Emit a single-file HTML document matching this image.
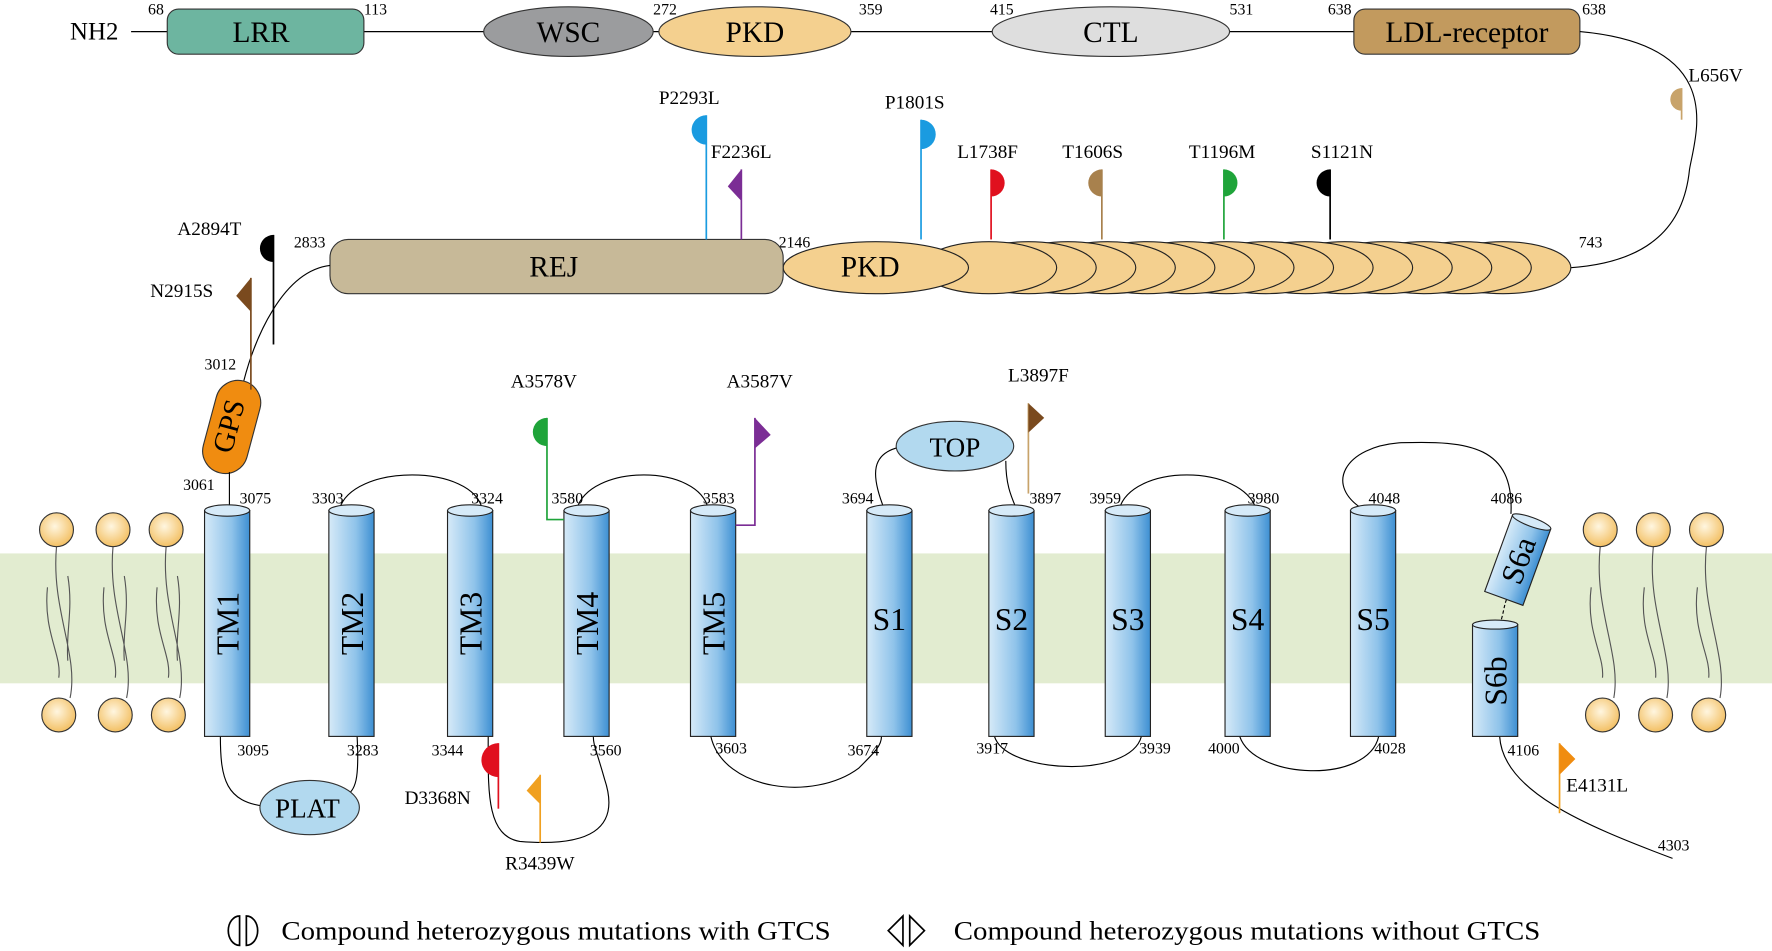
<!DOCTYPE html>
<html><head><meta charset="utf-8"><style>html,body{margin:0;padding:0;background:#fff}svg{display:block}</style></head>
<body>
<svg width="1772" height="951" viewBox="0 0 1568 842" preserveAspectRatio="none" xmlns="http://www.w3.org/2000/svg" font-family="Liberation Serif, serif">
<defs>
<linearGradient id="cyl" x1="0" x2="1" y1="0" y2="0"><stop offset="0" stop-color="#d6eaf8"/><stop offset="0.6" stop-color="#8fc3ea"/><stop offset="1" stop-color="#3d8fd2"/></linearGradient>
<radialGradient id="ball" cx="0.45" cy="0.4" r="0.6"><stop offset="0" stop-color="#fff6e0"/><stop offset="1" stop-color="#f3c064"/></radialGradient>
</defs>
<rect x="0" y="490" width="1568" height="115" fill="#e2ecd0"/>

<text x="62" y="35" font-size="22">NH2</text>
<line x1="116" y1="28" x2="1200" y2="28" stroke="#000"/>
<rect x="148" y="8" width="174" height="40" rx="10" fill="#6db5a0" stroke="#333"/>
<text x="231" y="37" font-size="26" text-anchor="middle">LRR</text>
<ellipse cx="503" cy="28" rx="75" ry="22" fill="#9b9c9e" stroke="#333"/>
<text x="503" y="37" font-size="26" text-anchor="middle">WSC</text>
<ellipse cx="668" cy="28" rx="85" ry="22" fill="#f4d08f" stroke="#333"/>
<text x="668" y="37" font-size="26" text-anchor="middle">PKD</text>
<ellipse cx="983" cy="28" rx="105" ry="22" fill="#dedede" stroke="#333"/>
<text x="983" y="37" font-size="26" text-anchor="middle">CTL</text>
<rect x="1198" y="8" width="200" height="40" rx="10" fill="#c29a5e" stroke="#333"/>
<text x="1298" y="37" font-size="26" text-anchor="middle">LDL-receptor</text>
<g font-size="14"><text x="131" y="13">68</text><text x="322" y="13">113</text><text x="578" y="13">272</text><text x="760" y="13">359</text><text x="876" y="13">415</text><text x="1088" y="13">531</text><text x="1175" y="13">638</text><text x="1400" y="13">638</text><text x="1397" y="219">743</text><text x="689" y="219">2146</text><text x="260" y="219">2833</text><text x="181" y="327">3012</text><text x="162" y="434">3061</text><text x="212" y="446">3075</text><text x="276" y="446">3303</text><text x="417" y="446">3324</text><text x="488" y="446">3580</text><text x="622" y="446">3583</text><text x="745" y="446">3694</text><text x="911" y="446">3897</text><text x="964" y="446">3959</text><text x="1104" y="446">3980</text><text x="1211" y="446">4048</text><text x="1319" y="446">4086</text>
<text x="210" y="669">3095</text><text x="307" y="669">3283</text><text x="382" y="669">3344</text><text x="522" y="669">3560</text><text x="633" y="667">3603</text><text x="750" y="669">3674</text><text x="864" y="667">3917</text><text x="1008" y="667">3939</text><text x="1069" y="667">4000</text><text x="1216" y="667">4028</text><text x="1334" y="669">4106</text><text x="1467" y="753">4303</text></g>
<path d="M1398 28 C1530 40 1500 120 1495 150 C1490 200 1460 232 1390 237" fill="none" stroke="#000"/>

<g fill="#f4d08f" stroke="#222">
<ellipse cx="1330" cy="237" rx="60" ry="23"/><ellipse cx="1295" cy="237" rx="60" ry="23"/><ellipse cx="1260" cy="237" rx="60" ry="23"/><ellipse cx="1225" cy="237" rx="60" ry="23"/><ellipse cx="1190" cy="237" rx="60" ry="23"/><ellipse cx="1155" cy="237" rx="60" ry="23"/><ellipse cx="1120" cy="237" rx="60" ry="23"/><ellipse cx="1085" cy="237" rx="60" ry="23"/><ellipse cx="1050" cy="237" rx="60" ry="23"/><ellipse cx="1015" cy="237" rx="60" ry="23"/><ellipse cx="980" cy="237" rx="60" ry="23"/><ellipse cx="945" cy="237" rx="60" ry="23"/><ellipse cx="910" cy="237" rx="60" ry="23"/><ellipse cx="875" cy="237" rx="60" ry="23"/>
<ellipse cx="775" cy="237" rx="82" ry="23"/></g>
<text x="770" y="245" font-size="26" text-anchor="middle">PKD</text>
<rect x="292" y="212" width="401" height="48" rx="16" fill="#c7b998" stroke="#333"/>
<text x="490" y="245" font-size="26" text-anchor="middle">REJ</text>
<path d="M292 235 C250 240 225 300 215 340" fill="none" stroke="#000"/>

<g transform="translate(205,378) rotate(15)"><rect x="-20" y="-42" width="40" height="84" rx="20" fill="#f08c10" stroke="#333"/><text x="0" y="0" font-size="26" text-anchor="middle" dominant-baseline="middle" transform="rotate(-90)">GPS</text></g>
<line x1="203" y1="418" x2="203" y2="452" stroke="#000"/>

<g fill="none" stroke="#000">
<path d="M195 652 C195 690 200 710 235 714"/><path d="M316 652 C318 690 315 700 305 705"/>
<path d="M432 652 C432 700 430 740 460 745 C520 750 550 735 535 690 C528 665 525 660 525 652"/>
<path d="M629 652 C640 700 720 710 760 680 C775 665 780 660 780 652"/>
<path d="M880 652 C890 685 1000 690 1010 652"/>
<path d="M1097 652 C1110 690 1210 695 1220 652"/>
<path d="M300 452 C310 410 420 410 427 452"/>
<path d="M510 452 C520 410 620 410 627 452"/>
<path d="M990 452 C1000 410 1100 410 1112 452"/>
<path d="M783 452 C770 420 770 400 800 395"/>
<path d="M890 408 C890 430 895 440 900 452"/>
<path d="M1208 452 C1170 430 1190 395 1240 392 C1300 390 1340 395 1337 455"/>
<path d="M1327 652 C1330 700 1400 730 1480 760"/>
<path d="M1327 553 C1332 540 1330 530 1340 520" stroke-dasharray="3,2"/>
</g>
<ellipse cx="274" cy="715" rx="44" ry="24" fill="#b2d9ef" stroke="#333"/><text x="272" y="724" font-size="24" text-anchor="middle">PLAT</text>
<ellipse cx="845" cy="395" rx="52" ry="22" fill="#b2d9ef" stroke="#333"/><text x="845" y="404" font-size="24" text-anchor="middle">TOP</text>

<g stroke="#222">
<g><rect x="181" y="452" width="40" height="200" fill="url(#cyl)"/><ellipse cx="201" cy="452" rx="20" ry="5" fill="#d6eaf8"/></g>
<g><rect x="291" y="452" width="40" height="200" fill="url(#cyl)"/><ellipse cx="311" cy="452" rx="20" ry="5" fill="#d6eaf8"/></g>
<g><rect x="396" y="452" width="40" height="200" fill="url(#cyl)"/><ellipse cx="416" cy="452" rx="20" ry="5" fill="#d6eaf8"/></g>
<g><rect x="499" y="452" width="40" height="200" fill="url(#cyl)"/><ellipse cx="519" cy="452" rx="20" ry="5" fill="#d6eaf8"/></g>
<g><rect x="611" y="452" width="40" height="200" fill="url(#cyl)"/><ellipse cx="631" cy="452" rx="20" ry="5" fill="#d6eaf8"/></g>
<g><rect x="767" y="452" width="40" height="200" fill="url(#cyl)"/><ellipse cx="787" cy="452" rx="20" ry="5" fill="#d6eaf8"/></g>
<g><rect x="875" y="452" width="40" height="200" fill="url(#cyl)"/><ellipse cx="895" cy="452" rx="20" ry="5" fill="#d6eaf8"/></g>
<g><rect x="978" y="452" width="40" height="200" fill="url(#cyl)"/><ellipse cx="998" cy="452" rx="20" ry="5" fill="#d6eaf8"/></g>
<g><rect x="1084" y="452" width="40" height="200" fill="url(#cyl)"/><ellipse cx="1104" cy="452" rx="20" ry="5" fill="#d6eaf8"/></g>
<g><rect x="1195" y="452" width="40" height="200" fill="url(#cyl)"/><ellipse cx="1215" cy="452" rx="20" ry="5" fill="#d6eaf8"/></g>
<g><rect x="1303" y="553" width="40" height="99" fill="url(#cyl)"/><ellipse cx="1323" cy="553" rx="20" ry="4" fill="#d6eaf8"/></g>
<g transform="translate(1343,496) rotate(20)"><rect x="-18" y="-36" width="36" height="72" fill="url(#cyl)"/><ellipse cx="0" cy="-36" rx="18" ry="4" fill="#d6eaf8"/></g>
</g>
<g font-size="28" text-anchor="middle">
<text transform="translate(211,552) rotate(-90)">TM1</text><text transform="translate(321,552) rotate(-90)">TM2</text><text transform="translate(426,552) rotate(-90)">TM3</text><text transform="translate(529,552) rotate(-90)">TM4</text><text transform="translate(641,552) rotate(-90)">TM5</text>
<text x="787" y="558">S1</text><text x="895" y="558">S2</text><text x="998" y="558">S3</text><text x="1104" y="558">S4</text><text x="1215" y="558">S5</text>
<text transform="translate(1333,603) rotate(-90)">S6b</text><text transform="translate(1343,496) rotate(-70) translate(0,10)">S6a</text>
</g>

<g stroke="#555" fill="none" stroke-width="1">
<path d="M50 484 C45 540 70 580 62 618 M42 520 C38 560 55 580 52 600 M60 510 C65 540 58 560 60 585"/>
<path d="M100 484 C95 540 120 580 112 618 M92 520 C88 560 105 580 102 600 M110 510 C115 540 108 560 110 585"/>
<path d="M147 484 C142 540 167 580 159 618 M139 520 C135 560 152 580 149 600 M157 510 C162 540 155 560 157 585"/>
<path d="M1416 484 C1410 540 1435 580 1428 618 M1408 520 C1403 560 1420 580 1418 600"/>
<path d="M1463 484 C1457 540 1482 580 1475 618 M1455 520 C1450 560 1467 580 1465 600"/>
<path d="M1510 484 C1504 540 1529 580 1522 618 M1502 520 C1497 560 1514 580 1512 600"/>
</g>
<g stroke="#333" fill="url(#ball)">
<circle cx="50" cy="469" r="15"/><circle cx="100" cy="469" r="15"/><circle cx="147" cy="469" r="15"/>
<circle cx="52" cy="633" r="15"/><circle cx="102" cy="633" r="15"/><circle cx="149" cy="633" r="15"/>
<circle cx="1416" cy="469" r="15"/><circle cx="1463" cy="469" r="15"/><circle cx="1510" cy="469" r="15"/>
<circle cx="1418" cy="633" r="15"/><circle cx="1465" cy="633" r="15"/><circle cx="1512" cy="633" r="15"/>
</g>

<g stroke-width="1.5">
<line x1="625" y1="102" x2="625" y2="212" stroke="#1a9be0"/><path d="M625 102 A13 13 0 0 0 625 128Z" fill="#1a9be0"/>
<line x1="656" y1="150" x2="656" y2="212" stroke="#7b2d95"/><path d="M656 150 L644 165 L656 178Z" fill="#7b2d95"/>
<line x1="815" y1="106" x2="815" y2="212" stroke="#1a9be0"/><path d="M815 106 A13 13 0 0 1 815 132Z" fill="#1a9be0"/>
<line x1="877" y1="150" x2="877" y2="212" stroke="#e0101e"/><path d="M877 150 A12 12 0 0 1 877 174Z" fill="#e0101e"/>
<line x1="975" y1="150" x2="975" y2="212" stroke="#a8814d"/><path d="M975 150 A12 12 0 0 0 975 174Z" fill="#a8814d"/>
<line x1="1083" y1="150" x2="1083" y2="212" stroke="#1fa43a"/><path d="M1083 150 A12 12 0 0 1 1083 174Z" fill="#1fa43a"/>
<line x1="1177" y1="150" x2="1177" y2="212" stroke="#000"/><path d="M1177 150 A12 12 0 0 0 1177 174Z" fill="#000"/>
<line x1="1488" y1="78" x2="1488" y2="106" stroke="#c8a36a"/><path d="M1488 78 A10 10 0 0 0 1488 98Z" fill="#c8a36a"/>
<line x1="242" y1="208" x2="242" y2="305" stroke="#000"/><path d="M242 208 A12 12 0 0 0 242 232Z" fill="#000"/>
<line x1="222" y1="246" x2="222" y2="345" stroke="#7a4a1e"/><path d="M222 246 L209 262 L222 276Z" fill="#7a4a1e"/>
<polyline points="484,370 484,460 499,460" fill="none" stroke="#1fa43a"/><path d="M484 370 A12 12 0 0 0 484 395Z" fill="#1fa43a"/>
<polyline points="668,370 668,465 651,465" fill="none" stroke="#7b2d95"/><path d="M668 370 L682 385 L668 397Z" fill="#7b2d95"/>
<line x1="910" y1="357" x2="910" y2="437" stroke="#c8a36a"/><path d="M910 357 L924 370 L910 383Z" fill="#7a4a1e"/>
<line x1="441" y1="658" x2="441" y2="716" stroke="#e0101e"/><path d="M441 658 A13 13 0 0 0 441 688Z" fill="#e0101e"/>
<line x1="478" y1="686" x2="478" y2="746" stroke="#f0a020"/><path d="M478 686 L466 700 L478 712Z" fill="#f0a020"/>
<line x1="1380" y1="658" x2="1380" y2="720" stroke="#f0a020"/><path d="M1380 658 L1394 672 L1380 686Z" fill="#f08c10"/>
</g>
<g font-size="17">
<text x="583" y="92">P2293L</text><text x="629" y="140">F2236L</text><text x="783" y="96">P1801S</text><text x="847" y="140">L1738F</text><text x="940" y="140">T1606S</text><text x="1052" y="140">T1196M</text><text x="1160" y="140">S1121N</text><text x="1494" y="72">L656V</text>
<text x="157" y="208">A2894T</text><text x="133" y="263">N2915S</text><text x="452" y="343">A3578V</text><text x="643" y="343">A3587V</text><text x="892" y="338">L3897F</text>
<text x="358" y="712">D3368N</text><text x="447" y="770">R3439W</text><text x="1386" y="701">E4131L</text>
</g>

<g stroke="#000" fill="none" stroke-width="1.5"><path d="M212 811 A10 13 0 0 0 212 837Z"/><path d="M218 811 A10 13 0 0 1 218 837Z"/><path d="M799 811 L786 824 L799 837Z"/><path d="M805 811 L818 824 L805 837Z"/></g>
<text x="249" y="832" font-size="23" textLength="486" lengthAdjust="spacingAndGlyphs">Compound heterozygous mutations with GTCS</text>
<text x="844" y="832" font-size="23" textLength="519" lengthAdjust="spacingAndGlyphs">Compound heterozygous mutations without GTCS</text>
</svg>
</body></html>
